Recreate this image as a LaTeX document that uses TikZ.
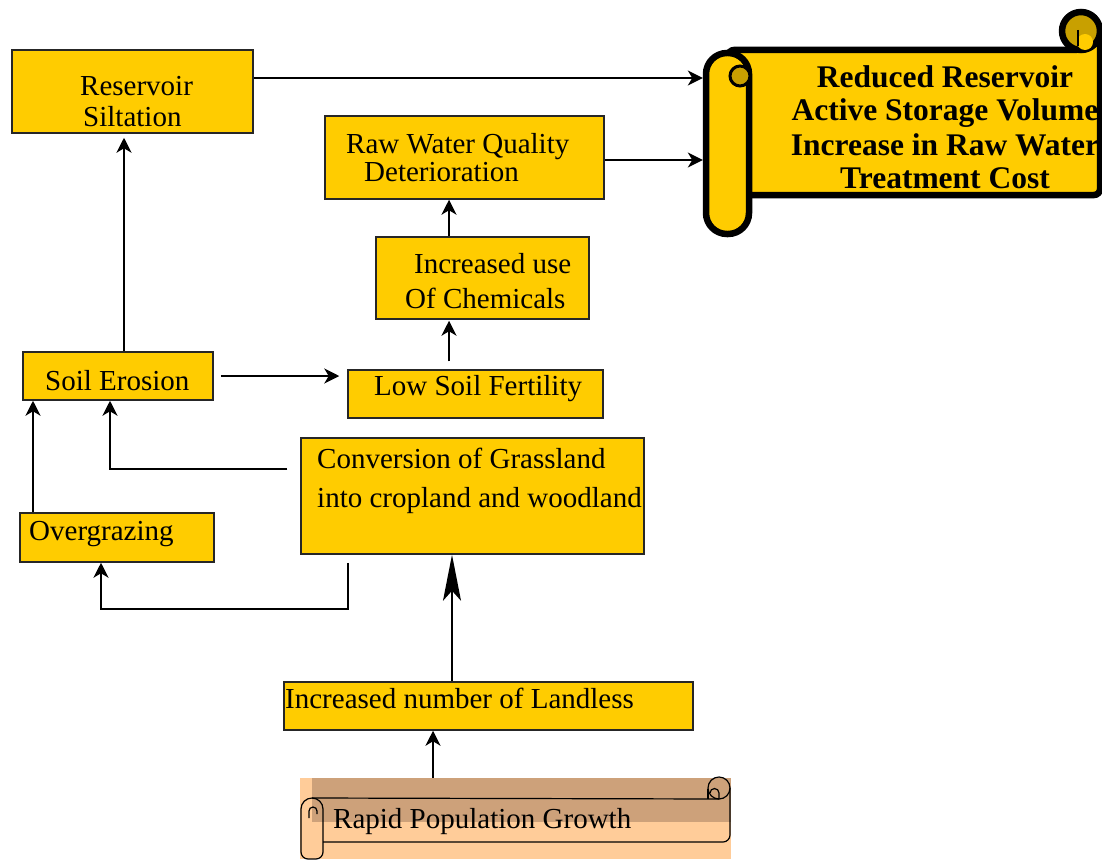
\documentclass[tikz,border=0pt]{standalone}
\usepackage{fontspec}
\setmainfont{Liberation Serif}
\usetikzlibrary{arrows.meta,fit}
\definecolor{gold}{RGB}{255,204,0}
\definecolor{dgold}{RGB}{200,160,0}
\definecolor{peach}{RGB}{255,204,153}
\definecolor{tan}{RGB}{205,161,122}
\begin{document}
\begin{tikzpicture}[x=1pt,y=-1pt,
  box/.style={draw=black!85, line width=1.5pt, fill=gold, inner sep=0pt},
  txt/.style={inner sep=0pt, anchor=base west, font=\fontsize{29}{34}\selectfont},
  btxt/.style={inner sep=0pt, anchor=base, font=\bfseries\fontsize{31.5}{34}\selectfont},
  arr/.style={draw, line width=1.6pt, -{Stealth[length=15pt,width=15pt,inset=4.5pt]}},
  bigarr/.style={draw, line width=1.6pt, -{Stealth[length=46pt,width=18pt,inset=10pt]}},
  thinscroll/.style={draw=black, line width=1.2pt},
  fatscroll/.style={draw=black, line width=6.5pt}]
\useasboundingbox (0,0) rectangle (1102,859);

% ---------- boxes ----------
\node[box, fit={(12,50) (253,133)}] (res) {};
\node[box, fit={(325,116) (604,199)}] (raw) {};
\node[box, fit={(376,237) (589,319)}] (chem) {};
\node[box, fit={(23,352) (213,400)}] (soil) {};
\node[box, fit={(348,370) (603,418)}] (low) {};
\node[box, fit={(301,438) (644,554)}] (conv) {};
\node[box, fit={(20,513) (214,562)}] (over) {};
\node[box, fit={(284,682) (693,730)}] (land) {};

\node[txt] (resT1) at (80,95) {Reservoir};
\node[txt] (resT2) at (83,126) {Siltation};
\node[txt] (rawT1) at (346,153) {Raw Water Quality};
\node[txt] (rawT2) at (364,181) {Deterioration};
\node[txt] (chemT1) at (414,273) {Increased use};
\node[txt] (chemT2) at (405,308) {Of Chemicals};
\node[txt] (soilT) at (45,390) {Soil Erosion};
\node[txt] (lowT) at (374,395) {Low Soil Fertility};
\node[txt] (convT1) at (317,468) {Conversion of Grassland};
\node[txt] (convT2) at (317,507) {into cropland and woodland};
\node[txt] (overT) at (29,540) {Overgrazing};
\node[txt] (landT) at (285,708) {Increased number of Landless};

% ---------- bottom scroll ----------
\fill[peach] (300,778) rectangle (731,859);
\fill[tan] (312,778) rectangle (731,822);
\node[inner sep=0pt, fit={(300,778) (731,859)}] (rapid) {};
\draw[thinscroll] (312,798) -- (719,799);
\draw[thinscroll] (719,788) circle (11);
\draw[thinscroll] (708,789) -- (708,799);
\draw[thinscroll] (719,799) -- (719,793) arc (0:-180:4.5);
\draw[thinscroll] (730,788) -- (730,835) arc (0:90:7) -- (323,842);
\draw[thinscroll] (301,852) -- (301,809) arc (180:360:11) -- (323,852) arc (0:90:7) -- (308,859) arc (90:180:7);
\draw[thinscroll] (309,818) -- (309,811) arc (180:360:4) -- (317,814);
\node[txt] (rapidT) at (333,828) {Rapid Population Growth};

% ---------- top-right scroll ----------
\filldraw[fill=gold, fatscroll, rounded corners=6pt] (728,50) -- (1081,50) -- (1100,31) -- (1100,195) -- (745,195) -- cycle;
\filldraw[fill=dgold, fatscroll] (1081,31) circle (19);
\fill[gold] (1085,42) circle (8);
\draw[line width=2.5pt] (1078,30) -- (1078,46);
\filldraw[fill=gold, fatscroll, rounded corners=21pt] (706,53) rectangle (749,234);
\filldraw[fill=dgold, draw=black, line width=3pt] (740,76) circle (10);
\fill[gold] (729,86) rectangle (735,90);
\node[inner sep=0pt, fit={(703,10) (1102,237)}] (reduced) {};
\node[btxt] (redT1) at (945,87) {Reduced Reservoir};
\node[btxt] (redT2) at (945,120) {Active Storage Volume};
\node[btxt] (redT3) at (945,155) {Increase in Raw Water};
\node[btxt] (redT4) at (945,188) {Treatment Cost};

% ---------- helper coordinates ----------
\coordinate (yA) at (0,78);
\coordinate (yB) at (0,160);
\coordinate (ySL) at (0,376);
\coordinate (yCS) at (0,469);
\coordinate (yCO) at (0,609);
\coordinate (x124) at (124,0);
\coordinate (x449) at (449,0);
\coordinate (x110) at (110,0);
\coordinate (x33) at (33,0);
\coordinate (x348) at (348,0);
\coordinate (x101) at (101,0);
\coordinate (x452) at (452,0);
\coordinate (x433) at (433,0);

% ---------- connectors ----------
\draw[arr] (res.east |- yA) -- (reduced.west |- yA);
\draw[arr] (raw.east |- yB) -- (reduced.west |- yB);
\draw[arr] (chem.north -| x449) -- (raw.south -| x449);
\draw[arr, shorten <=8pt, shorten >=1pt] (low.north -| x449) -- (chem.south -| x449);
\draw[arr, shorten <=7pt, shorten >=8pt] (soil.east |- ySL) -- (low.west |- ySL);
\draw[arr, shorten >=4pt] (soil.north -| x124) -- (res.south -| x124);
\draw[arr, shorten <=13pt] (conv.west |- yCS) -| (soil.south -| x110);
\draw[arr] (over.north -| x33) -- (soil.south -| x33);
\draw[arr, shorten <=8pt] (conv.south -| x348) |- (yCO -| x101) -- (over.south -| x101);
\draw[bigarr] (land.north -| x452) -- (conv.south -| x452);
\draw[arr] (rapid.north -| x433) -- (land.south -| x433);
\end{tikzpicture}
\end{document}
